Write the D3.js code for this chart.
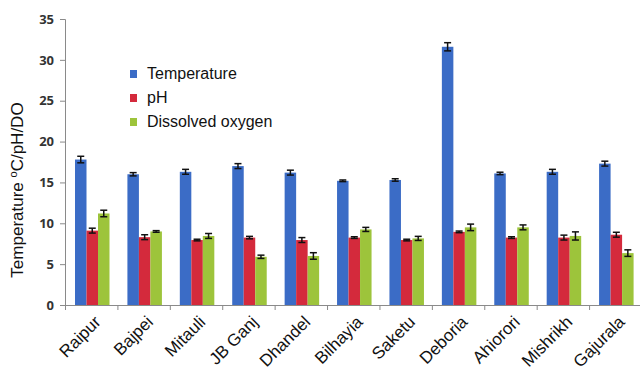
<!DOCTYPE html>
<html><head><meta charset="utf-8">
<script src="https://cdn.jsdelivr.net/npm/d3@7"></script>
<style>body{margin:0;background:#fff}svg{display:block}</style>
</head><body>
<svg id="c" width="640" height="378"></svg>
<script>
const categories = ["Raipur","Bajpei","Mitauli","JB Ganj","Dhandel","Bilhayia","Saketu","Deboria","Ahiorori","Mishrikh","Gajurala"];
const seriesNames = ["Temperature","pH","Dissolved oxygen"];
const temperature = [17.8,16.0,16.3,17.0,16.2,15.2,15.3,31.6,16.1,16.3,17.3];
const temperatureErr = [0.4,0.2,0.3,0.3,0.3,0.1,0.15,0.5,0.15,0.3,0.3];
const pH = [9.1,8.3,7.95,8.25,7.95,8.25,7.95,8.95,8.25,8.25,8.6];
const pHErr = [0.3,0.3,0.1,0.15,0.3,0.1,0.1,0.1,0.1,0.3,0.3];
const dissolvedOxygen = [11.2,9.0,8.45,5.9,6.0,9.25,8.15,9.5,9.5,8.45,6.35];
const dissolvedOxygenErr = [0.4,0.1,0.3,0.2,0.4,0.25,0.25,0.4,0.3,0.5,0.4];
const yTicks = [0,5,10,15,20,25,30,35];
const colors = ["#3b6cc6","#d42a3c","#9dc43b"];

const values = [temperature, pH, dissolvedOxygen];
const errs = [temperatureErr, pHErr, dissolvedOxygenErr];

const svg = d3.select("#c");
const y = d3.scaleLinear().domain([0,35]).range([305,19]);
const x0 = d3.scaleBand().domain(categories).range([65.5,642]).padding(0);
const x1 = d3.scaleBand().domain(seriesNames).range([9.5,44]).padding(0);

// y axis
const yAxis = svg.append("g").attr("transform","translate(65,0)")
  .call(d3.axisLeft(y).tickValues(yTicks).tickSize(5).tickPadding(6));
yAxis.select(".domain").attr("stroke","#8a8a8a");
yAxis.selectAll(".tick line").attr("stroke","#8a8a8a");
yAxis.selectAll(".tick text").attr("font-family","'Open Sans', Arial, sans-serif")
  .attr("font-weight","bold").attr("font-size","13px").attr("fill","#333");

// x axis line + boundary ticks
svg.append("line").attr("x1",65).attr("x2",642).attr("y1",y(0)+0.5).attr("y2",y(0)+0.5)
  .attr("stroke","#8a8a8a");
svg.selectAll(".xb").data(categories).enter().append("line")
  .attr("x1",d=>x0(d)).attr("x2",d=>x0(d)).attr("y1",y(0)).attr("y2",y(0)+5)
  .attr("stroke","#8a8a8a");

// bars
const groups = svg.selectAll(".grp").data(categories).enter().append("g")
  .attr("transform",d=>`translate(${x0(d)},0)`);
seriesNames.forEach((s,si)=>{
  groups.append("rect")
    .attr("x",x1(s)).attr("width",x1.bandwidth())
    .attr("y",(d,i)=>y(values[si][i])).attr("height",(d,i)=>y(0)-y(values[si][i]))
    .attr("fill",colors[si]);
  const cx = x1(s)+x1.bandwidth()/2;
  groups.append("line").attr("x1",cx).attr("x2",cx)
    .attr("y1",(d,i)=>y(values[si][i]-errs[si][i])).attr("y2",(d,i)=>y(values[si][i]+errs[si][i]))
    .attr("stroke","#111").attr("stroke-width",1.5);
  [1,-1].forEach(sg=>{
    groups.append("line").attr("x1",cx-3.5).attr("x2",cx+3.5)
      .attr("y1",(d,i)=>y(values[si][i]+sg*errs[si][i])).attr("y2",(d,i)=>y(values[si][i]+sg*errs[si][i]))
      .attr("stroke","#111").attr("stroke-width",1.5);
  });
});

// x labels
svg.selectAll(".xl").data(categories).enter().append("text")
  .attr("transform",d=>`translate(${x0(d)+x0.bandwidth()/2+10},${y(0)+18}) rotate(-45)`)
  .attr("text-anchor","end")
  .attr("font-family","'Liberation Sans', Arial, sans-serif").attr("font-size","17px")
  .attr("fill","#111").text(d=>d);

// y label
const yl = svg.append("text").attr("transform","translate(23,190) rotate(-90)")
  .attr("text-anchor","middle")
  .attr("font-family","'Liberation Sans', Arial, sans-serif").attr("font-size","17px").attr("fill","#111");
yl.append("tspan").text("Temperature ");
yl.append("tspan").attr("font-size","11px").attr("dy","-6").text("o");
yl.append("tspan").attr("dy","6").text("C/pH/DO");

// legend
const lg = svg.append("g").attr("transform","translate(130,70)");
seriesNames.forEach((s,i)=>{
  lg.append("rect").attr("x",0).attr("y",i*24).attr("width",7).attr("height",8).attr("fill",colors[i]);
  lg.append("text").attr("x",17).attr("y",i*24+9)
    .attr("font-family","'Liberation Sans', Arial, sans-serif").attr("font-size","16px")
    .attr("fill","#111").text(s);
});
</script>
</body></html>
